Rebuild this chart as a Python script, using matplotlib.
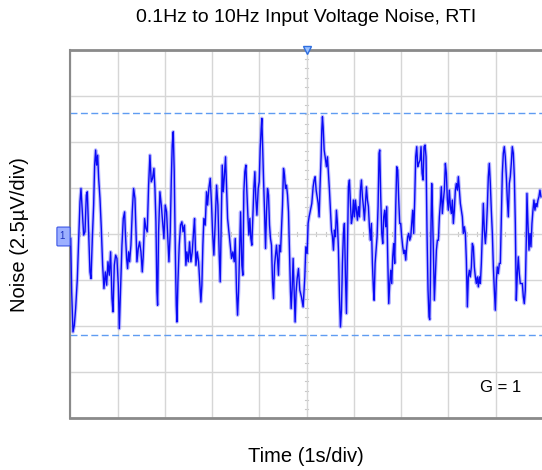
import numpy as np
import matplotlib
matplotlib.use("Agg")
import matplotlib.pyplot as plt
from matplotlib.patches import FancyBboxPatch

plt.rcParams['font.family'] = ['Liberation Sans', 'DejaVu Sans']

# scope trace: time (s) and noise (uV)
time_s = [
    0.008, 0.029, 0.057, 0.085, 0.113, 0.149, 0.177, 0.205, 0.226, 0.254, 0.283, 0.311, 0.339, 0.360,
    0.388, 0.416, 0.438, 0.466, 0.494, 0.515, 0.536, 0.557, 0.579, 0.600, 0.628, 0.656, 0.684, 0.712,
    0.741, 0.769, 0.797, 0.825, 0.853, 0.882, 0.903, 0.931, 0.959, 0.987, 1.016, 1.037, 1.065, 1.093,
    1.121, 1.149,
    1.164, 1.192, 1.212, 1.234, 1.255, 1.283, 1.311, 1.339, 1.368, 1.389, 1.410, 1.438, 1.466, 1.495,
    1.523, 1.544, 1.572, 1.600, 1.628, 1.657, 1.685, 1.713, 1.741, 1.769, 1.791, 1.812, 1.833, 1.847,
    1.868, 1.896, 1.925, 1.953, 1.981, 2.009, 2.037, 2.065, 2.087, 2.115, 2.136, 2.157, 2.178, 2.199,
    2.220, 2.242, 2.256, 2.277, 2.305, 2.333, 2.361,
    2.386, 2.415, 2.446, 2.467, 2.496, 2.523, 2.552, 2.580, 2.608, 2.629, 2.658, 2.686, 2.714, 2.742,
    2.763, 2.784, 2.805, 2.826, 2.855, 2.883, 2.904, 2.932, 2.961, 2.989, 3.010, 3.038, 3.067, 3.095,
    3.123, 3.151, 3.172, 3.194, 3.215, 3.236, 3.257, 3.285, 3.306, 3.328, 3.356, 3.384, 3.412, 3.440,
    3.469, 3.490, 3.518, 3.539, 3.560, 3.582, 3.603,
    3.630, 3.651, 3.672, 3.693, 3.715, 3.736, 3.757, 3.778, 3.799, 3.820, 3.841, 3.863, 3.884, 3.905,
    3.926, 3.948, 3.976, 3.997, 4.018, 4.039, 4.053, 4.068, 4.088, 4.110, 4.131, 4.152, 4.173, 4.194,
    4.215, 4.236, 4.257, 4.279, 4.300, 4.321, 4.342, 4.363, 4.384, 4.405, 4.426, 4.448, 4.469, 4.490,
    4.511, 4.532, 4.553, 4.574, 4.596, 4.617, 4.638, 4.659, 4.673, 4.694, 4.715, 4.736, 4.757, 4.778,
    4.800, 4.828,
    4.856, 4.891, 4.926, 4.962, 4.983, 5.011, 5.032, 5.053, 5.082, 5.110, 5.138, 5.159, 5.180, 5.202,
    5.223, 5.244, 5.265, 5.286, 5.307, 5.321, 5.335, 5.350, 5.371, 5.392, 5.420, 5.441, 5.462, 5.483,
    5.504, 5.526, 5.547, 5.568, 5.589, 5.610, 5.631, 5.652, 5.674, 5.695, 5.716, 5.737, 5.758, 5.779,
    5.800, 5.822, 5.843, 5.864, 5.885, 5.906, 5.927, 5.948, 5.970, 5.991, 6.012, 6.033, 6.054, 6.075,
    6.096, 6.118, 6.139, 6.160, 6.181, 6.202, 6.223, 6.244, 6.266, 6.287, 6.308, 6.329, 6.350, 6.371,
    6.392, 6.414, 6.428, 6.449, 6.470, 6.491, 6.512, 6.533, 6.547, 6.568, 6.590, 6.611, 6.632, 6.653,
    6.674, 6.695, 6.716, 6.738, 6.759, 6.780, 6.801, 6.822, 6.843, 6.864, 6.886, 6.907, 6.928, 6.949,
    6.970, 6.991, 7.012, 7.034, 7.055, 7.076, 7.097, 7.118, 7.139, 7.160, 7.182, 7.203, 7.224, 7.245,
    7.266, 7.287, 7.308, 7.330, 7.351, 7.372,
    7.400, 7.421, 7.443, 7.464, 7.485, 7.506, 7.527, 7.548, 7.569, 7.590, 7.605, 7.619, 7.633, 7.647,
    7.661, 7.682, 7.703, 7.724, 7.746, 7.767, 7.788, 7.809, 7.830, 7.851, 7.872, 7.894, 7.915, 7.936,
    7.957, 7.978, 7.999, 8.020, 8.042, 8.063, 8.084, 8.105, 8.126, 8.147, 8.168, 8.190, 8.211, 8.232,
    8.253, 8.274, 8.295, 8.316, 8.338, 8.359, 8.380, 8.401, 8.422, 8.443, 8.464, 8.486, 8.507, 8.528,
    8.549, 8.570, 8.591, 8.612, 8.634, 8.655, 8.676, 8.697, 8.718, 8.739, 8.760, 8.782, 8.803, 8.824,
    8.845, 8.866, 8.887, 8.908, 8.930, 8.951, 8.972, 8.993, 9.014, 9.035, 9.056, 9.078, 9.099, 9.120,
    9.141, 9.162, 9.183, 9.204, 9.226, 9.247, 9.268, 9.289, 9.310, 9.331, 9.352, 9.374, 9.395, 9.416,
    9.437, 9.458, 9.479, 9.500, 9.521, 9.543, 9.564, 9.585, 9.606, 9.627, 9.648, 9.662, 9.683, 9.705,
    9.726, 9.747, 9.768, 9.789, 9.810, 9.831, 9.853, 9.874, 9.895, 9.916, 9.937, 9.958,
]
noise_uv = [
    -0.24, -3.13, -5.31, -4.95, -4.04, -2.41, -0.24, 1.76, 2.48, 1.21, -0.05, 0.13, 2.12, 2.30,
    0.13, -2.05, -2.41, -0.24, 1.58, 3.75, 4.57, 3.75, 4.29, 3.03, 1.94, 0.31, -1.69, -2.95,
    -2.05, -2.77, -1.50, -2.23, -0.96, -3.50, -4.22, -1.69, -1.14, -1.32, -2.77, -5.13, -2.77, -0.60,
    0.85, 1.21,
    0.13, -1.32, -1.87, -0.96, -1.50, -0.60, 1.21, 2.48, 1.94, 0.13, -1.50, -0.78, -0.42, -0.96,
    -2.05, -1.14, 0.85, 0.31, 0.13, 2.66, 4.29, 2.84, 3.03, 3.57, 2.48, 0.67, -3.13, -3.86,
    0.13, 2.30, 1.58, 0.67, -0.24, 1.58, 1.21, -0.24, -1.50, 0.13, 2.84, 4.84, 5.56, 3.39,
    -0.60, -3.86, -4.77, -2.59, -0.60, 0.49, 0.67,
    0.13, 0.49, -1.69, -0.96, -1.50, -0.42, -1.50, -0.96, 0.13, 0.85, -1.69, -0.96, -1.50, -2.77,
    -3.68, -2.77, -0.60, 0.85, 0.49, 2.30, 1.58, 2.48, 3.03, 1.58, 0.13, -1.14, 0.67, 2.66,
    1.58, -1.14, -2.59, 0.49, 3.75, 2.30, 3.03, 4.20, 2.48, 0.85, 0.13, -0.60, -1.32, -0.96,
    -1.50, -0.24, -3.13, -4.40, -3.13, -0.96, 1.21,
    -1.69, -2.23, 2.30, 3.39, 3.75, 2.30, 1.03, -0.05, 0.85, -0.24, -0.60, 1.03, 2.48, 3.39,
    1.94, 1.03, 2.48, 2.84, 4.66, 5.74, 6.29, 4.84, 3.03, 1.21, -0.78, 1.21, 2.48, 2.12,
    0.49, -0.24, -0.60, -2.59, -3.50, -1.69, -1.14, -0.60, -1.32, -2.23, -0.60, -0.96, 0.31, 1.58,
    3.57, 3.21, 2.48, 2.66, 2.12, 1.21, -0.96, -3.13, -4.04, -2.95, -1.32, -3.13, -4.77, -3.13,
    -2.41, -1.87,
    -3.04, -3.41, -3.95, -2.32, -0.69, -1.05, 0.58, 0.94, 1.30, 1.67, 2.57, 2.94, 3.12, 2.39,
    2.03, 1.67, 0.94, 2.75, 4.20, 5.65, 6.38, 5.83, 4.57, 4.20, 3.66, 4.20, 3.30, 2.39,
    1.30, 0.22, -0.14, -0.87, 0.22, -0.14, 1.30, 0.58, -0.87, -3.41, -5.04, -4.13, -1.59, 0.04,
    0.58, -2.32, -4.31, -0.87, 2.57, 2.94, 1.67, 0.58, 0.94, 1.85, 0.94, 1.85, 1.30, 0.76,
    1.49, 0.94, 2.39, 2.94, 2.03, 1.49, 0.76, 1.67, 2.57, 1.85, 1.49, 0.40, -0.33, 0.58,
    -1.59, -3.04, -3.59, -1.59, -0.87, -0.14, 1.49, 4.39, 4.57, 2.03, 0.04, -0.51, 0.94, 1.30,
    0.40, 1.49, -1.23, -3.77, -2.68, -1.96, -2.68, -1.23, -0.51, -1.59, 1.49, 3.66, 3.48, 1.85,
    0.58, 0.58, -0.14, -0.69, -1.05, -0.87, -1.41, -0.69, -0.14, 0.04, -0.33, -0.14, 0.58, 1.30,
    0.04, 1.85, 4.20, 4.75, 3.66, 3.84,
    4.02, 4.75, 3.30, 2.94, 4.75, 4.84, 4.20, 0.04, -3.04, -4.49, -4.64, -2.68, 0.58, 2.75,
    1.49, -0.87, -3.59, -2.32, -0.87, -0.33, -0.33, 0.94, 1.67, 2.57, 1.12, 1.85, 2.39, 3.84,
    3.30, 1.85, 1.30, 2.39, 1.49, 1.12, 1.85, 0.58, 1.30, 2.39, 2.75, 2.39, 3.12, 2.39,
    1.67, 1.30, 0.94, 0.04, 0.40, 0.04, -1.41, -3.95, -2.32, -1.96, -2.32, -1.78, -0.51, -0.69,
    -1.78, -2.32, -2.68, -2.32, -2.86, -2.32, -2.68, -1.59, 0.04, 1.67, 0.22, -0.51, 0.22, 1.49,
    3.12, 3.84, 2.75, 1.30, 0.04, -1.78, -3.04, -4.13, -2.50, -1.78, -2.14, -1.59, -1.59, 0.76,
    3.30, 4.39, 4.75, 4.20, 3.12, 1.85, 0.94, 2.75, 3.12, 3.84, 4.75, 4.39, 3.12, 0.58,
    -3.59, -2.14, -1.23, -2.14, -2.68, -2.68, -2.68, -3.41, -3.77, -3.04, -0.33, 2.21, 0.58, -0.87,
    0.04, -0.69, 0.58, 1.30, 1.85, 1.30, 1.67, 1.49, 1.85, 2.03, 2.39, 2.03,
]

cursor_levels_uv = [6.59, -5.45]   # the two dashed horizontal cursors
volts_per_div = 2.5
x_divs = np.arange(0, 11, 1)
y_divs = np.arange(-4, 5, 1) * volts_per_div

fig = plt.figure(figsize=(5.42, 4.70), dpi=100)
ax = fig.add_axes([0.1297, 0.110, 0.872, 0.7836])

ax.set_xlim(0, 10)
ax.set_ylim(-4 * volts_per_div, 4 * volts_per_div)
ax.set_xticks(x_divs)
ax.set_yticks(y_divs)
ax.grid(True, color='#d6d6d6', lw=1.0)
ax.tick_params(length=0, labelbottom=False, labelleft=False)
ax.set_axisbelow(True)

# small ticks along the centre cross, scope style
for xm in np.arange(0, 10.01, 0.2):
    ax.plot([xm, xm], [-0.12, 0.12], color='#c8c8c8', lw=0.8, zorder=0.5)
for ym in np.arange(-10, 10.01, 0.5):
    ax.plot([4.96, 5.04], [ym, ym], color='#c8c8c8', lw=0.8, zorder=0.5)

for spine in ['left', 'bottom', 'top']:
    ax.spines[spine].set_color('#8a8a8a')
ax.spines['left'].set_linewidth(1.5)
ax.spines['bottom'].set_linewidth(2.0)
ax.spines['top'].set_linewidth(2.0)
ax.spines['right'].set_visible(False)

for lev in cursor_levels_uv:
    ax.axhline(lev, color='#5f9cf2', lw=1.0, ls=(0, (5, 2.5)), zorder=1)

ax.plot(time_s, noise_uv, color='#8e8eff', lw=2.6, alpha=0.6, zorder=2)
ax.plot(time_s, noise_uv, color='#0a0af5', lw=1.0, zorder=3)

# trigger marker at top centre
ax.plot([5], [10], marker='v', ms=6, mfc='#9cc2ff', mec='#2f6fe0', mew=1.0,
        clip_on=False, zorder=5)

# channel 1 marker on the left edge
box = FancyBboxPatch((58 / 542, 1 - 245 / 470), 11 / 542, 17 / 470,
                     boxstyle='round,pad=0.002', transform=fig.transFigure,
                     fc='#9db0ff', ec='#3a55e6', lw=0.8)
fig.patches.append(box)
fig.text(62 / 542, 1 - 236 / 470, '1', fontsize=7, color='#1a2fc0', ha='center', va='center')

ax.text(0.955, 0.084, 'G = 1', transform=ax.transAxes, ha='right', va='center', fontsize=12)

fig.text(306 / 542, 1 - 18 / 470, '0.1Hz to 10Hz Input Voltage Noise, RTI',
         ha='center', va='center', fontsize=14)
fig.text(306 / 542, 1 - 456 / 470, 'Time (1s/div)', ha='center', va='center', fontsize=14.5)
fig.text(20 / 542, 1 - 235 / 470, 'Noise (2.5µV/div)', ha='center', va='center',
         rotation=90, fontsize=14.5)

fig.savefig('out.png', dpi=100)
